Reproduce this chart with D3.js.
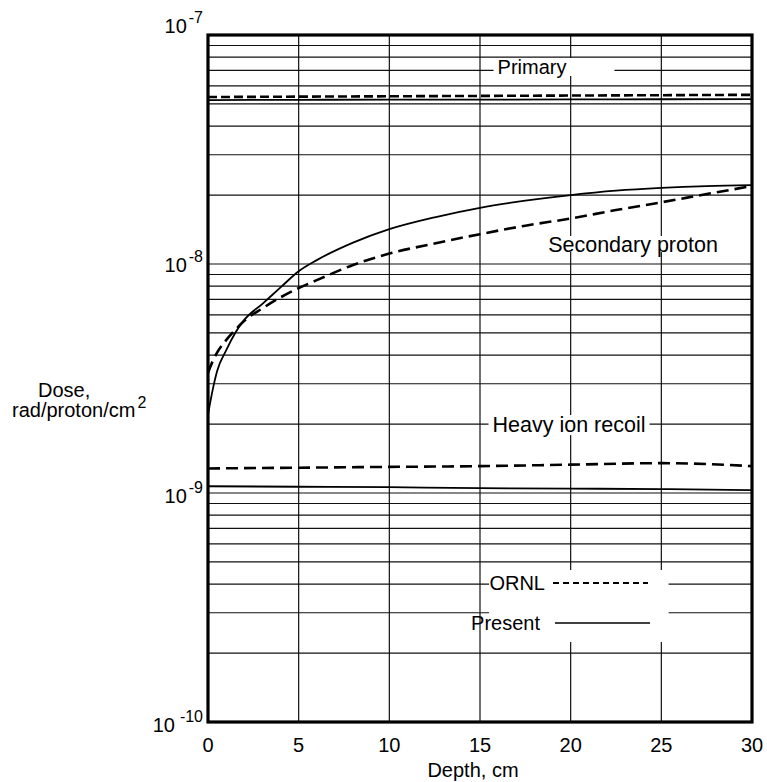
<!DOCTYPE html>
<html><head><meta charset="utf-8">
<script src="https://cdn.jsdelivr.net/npm/d3@7"></script>
<style>body{margin:0;background:#fff}text{font-family:"Liberation Sans",Arial,Helvetica,sans-serif;fill:#000}</style>
</head><body><svg id="c" width="767" height="782"></svg>
<script>
// ---- data ----
const depthFine = [0,0.25,0.5,1,1.5,2,3,4,5,6,8,10,12.5,15,17.5,20,22.5,25,27.5,30];
const secondaryPresent = [2.2e-9,2.8e-9,3.4e-9,4.2e-9,5.0e-9,5.7e-9,6.7e-9,7.9e-9,9.3e-9,1.04e-8,1.24e-8,1.42e-8,1.60e-8,1.76e-8,1.89e-8,2.0e-8,2.09e-8,2.15e-8,2.19e-8,2.21e-8];
const secondaryORNL = [3.35e-9,3.75e-9,4.1e-9,4.65e-9,5.15e-9,5.65e-9,6.4e-9,7.15e-9,7.85e-9,8.5e-9,9.9e-9,1.11e-8,1.23e-8,1.35e-8,1.47e-8,1.58e-8,1.72e-8,1.86e-8,2.02e-8,2.19e-8];
const depthCoarse = [0,5,10,15,20,25,30];
const primaryORNL = [5.36e-8,5.38e-8,5.4e-8,5.42e-8,5.44e-8,5.46e-8,5.48e-8];
const primaryPresent = [5.2e-8,5.21e-8,5.22e-8,5.22e-8,5.23e-8,5.24e-8,5.25e-8];
const heavyORNL = [1.28e-9,1.29e-9,1.3e-9,1.31e-9,1.33e-9,1.35e-9,1.31e-9];
const heavyPresent = [1.07e-9,1.065e-9,1.06e-9,1.05e-9,1.045e-9,1.04e-9,1.03e-9];
const xTicks = [0,5,10,15,20,25,30];
const yDecades = [1e-10,1e-9,1e-8,1e-7];
const yExponents = ["-10","-9","-8","-7"];

// ---- layout ----
const L=208,R=752,T=35,B=722;
const svg = d3.select("#c");
const x = d3.scaleLinear().domain([0,30]).range([L,R]);
const y = d3.scaleLog().domain([1e-10,1e-7]).range([B,T]);
const fs = 20;

svg.append("defs").append("clipPath").attr("id","clip")
  .append("rect").attr("x",L).attr("y",T).attr("width",R-L).attr("height",B-T);

// gridlines
const g = svg.append("g");
g.selectAll("line.h").data(y.ticks()).join("line")
  .attr("x1",L).attr("x2",R).attr("y1",d=>y(d)).attr("y2",d=>y(d))
  .attr("stroke","#111").attr("stroke-width",1.2);
g.selectAll("line.v").data(xTicks.slice(1,-1)).join("line")
  .attr("x1",d=>x(d)).attr("x2",d=>x(d)).attr("y1",T).attr("y2",B)
  .attr("stroke","#111").attr("stroke-width",1.2);

const bg = svg.append("g").attr("fill","#fff");
const labels = svg.append("g");

function label(txt, cx, baseline, size, padL, padR, padT, padB){
  const t = labels.append("text").attr("x",cx).attr("y",baseline)
    .attr("text-anchor","middle").attr("font-size",size).text(txt);
  const b = t.node().getBBox();
  bg.append("rect").attr("x",b.x-padL).attr("y",b.y+padT).attr("width",b.width+padL+padR).attr("height",b.height-padT-padB);
  return t;
}
// curve labels
label("Primary", 532, 74, 20, 4, 48, 2, 2);
label("Secondary proton", 633, 252, 21.5, 3, 3, 3, 5);
label("Heavy ion recoil", 569, y(2e-9)+8, 21.5, 4, 4, 2, 2);

// legend
bg.append("rect").attr("x",x(15.5)).attr("y",570).attr("width",x(25.4)-x(15.5)).attr("height",72);
labels.append("text").attr("x",545).attr("y",590).attr("text-anchor","end").attr("font-size",fs).text("ORNL");
labels.append("line").attr("x1",553).attr("x2",648).attr("y1",583).attr("y2",583)
  .attr("stroke","#000").attr("stroke-width",2).attr("stroke-dasharray","6,4");
labels.append("text").attr("x",540).attr("y",630).attr("text-anchor","end").attr("font-size",fs).text("Present");
labels.append("line").attr("x1",555).attr("x2",650).attr("y1",623).attr("y2",623)
  .attr("stroke","#000").attr("stroke-width",1.6);

// curves
const line = (xs,ys)=>d3.line().x((d,i)=>x(xs[i])).y(d=>y(d)).curve(d3.curveMonotoneX)(ys);
const cg = svg.append("g").attr("clip-path","url(#clip)").attr("fill","none").attr("stroke","#000");
cg.append("path").attr("d",line(depthCoarse,primaryORNL)).attr("stroke-width",2.6).attr("stroke-dasharray","9,4");
cg.append("path").attr("d",line(depthCoarse,primaryPresent)).attr("stroke-width",1.8);
cg.append("path").attr("d",line(depthFine,secondaryORNL)).attr("stroke-width",2.6).attr("stroke-dasharray","12,6");
cg.append("path").attr("d",line(depthFine,secondaryPresent)).attr("stroke-width",1.8);
cg.append("path").attr("d",line(depthCoarse,heavyORNL)).attr("stroke-width",2.6).attr("stroke-dasharray","12,6");
cg.append("path").attr("d",line(depthCoarse,heavyPresent)).attr("stroke-width",1.8);

// frame
svg.append("rect").attr("x",L).attr("y",T).attr("width",R-L).attr("height",B-T)
  .attr("fill","none").attr("stroke","#000").attr("stroke-width",3.2);

// x axis labels
svg.append("g").selectAll("text").data(xTicks).join("text")
  .attr("x",d=>x(d)).attr("y",752).attr("text-anchor","middle").attr("font-size",fs).text(d=>d);
svg.append("text").attr("x",473).attr("y",777).attr("text-anchor","middle").attr("font-size",fs).text("Depth, cm");

// y axis labels
const yOff = [10,10,8,-2];
const yl = svg.append("g").selectAll("text").data(yDecades).join("text")
  .attr("x",203).attr("y",(d,i)=>y(d)+yOff[i]).attr("text-anchor","end").attr("font-size",fs);
yl.append("tspan").text("10");
yl.append("tspan").attr("dx",(d,i)=>i===0?5:2).attr("dy",-10).attr("font-size",16).text((d,i)=>yExponents[i]);

// y title
svg.append("text").attr("x",38).attr("y",397).attr("font-size",fs).text("Dose,");
const yt = svg.append("text").attr("x",12).attr("y",417).attr("font-size",fs);
yt.append("tspan").text("rad/proton/cm");
yt.append("tspan").attr("dx",2).attr("dy",-9).attr("font-size",16).text("2");
</script></body></html>
